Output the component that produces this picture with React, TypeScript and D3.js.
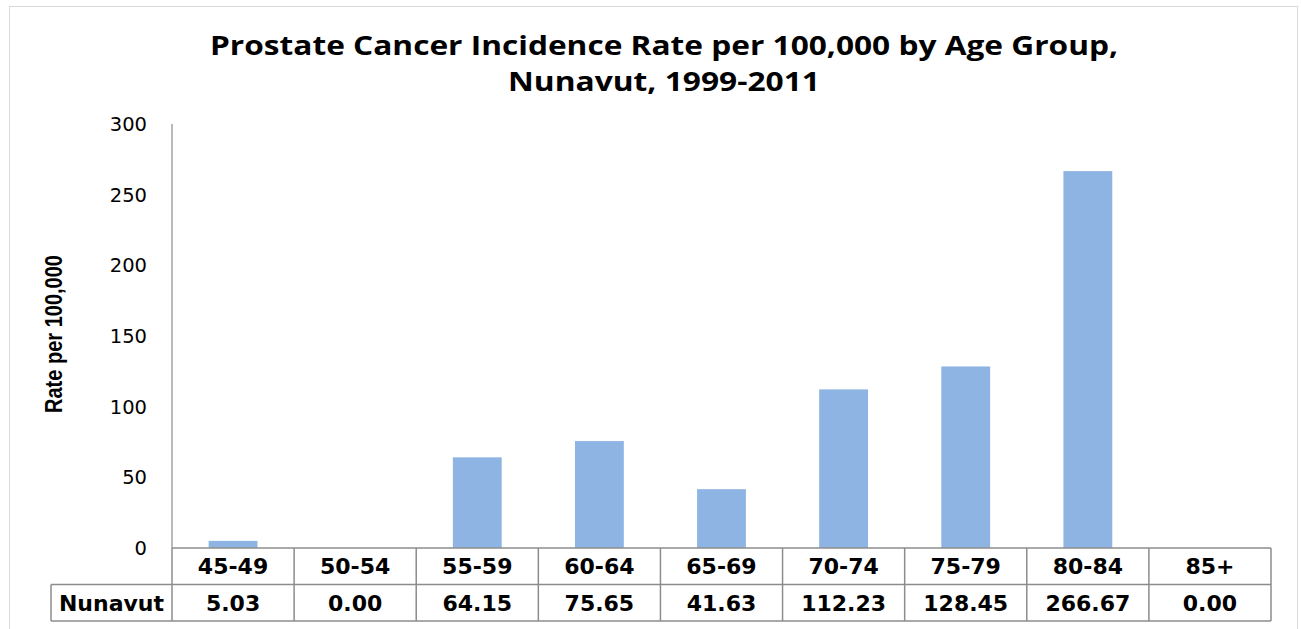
import React from "react";
import * as d3 from "d3";

const ageGroups = ["45-49", "50-54", "55-59", "60-64", "65-69", "70-74", "75-79", "80-84", "85+"];
const rates = [5.03, 0.0, 64.15, 75.65, 41.63, 112.23, 128.45, 266.67, 0.0];
const yTicks = [0, 50, 100, 150, 200, 250, 300];
const seriesName = "Nunavut";
const titleLines = ["Prostate Cancer Incidence Rate per 100,000 by Age Group,", "Nunavut, 1999-2011"];
const yLabel = "Rate per 100,000";

const W = 1301;
const H = 629;
const plot = { left: 172, right: 1271, top: 124, bottom: 548 };
const rowH = 36.5;

export default function App() {
  const x = d3.scaleBand<string>().domain(ageGroups).range([plot.left, plot.right]).paddingInner(0.6).paddingOuter(0.3);
  const xCell = d3.scaleBand<string>().domain(ageGroups).range([plot.left, plot.right]);
  const y = d3.scaleLinear().domain([0, 300]).range([plot.bottom, plot.top]);
  const tableFont = "'DejaVu Sans', Verdana, sans-serif";
  const grid = "#8c8c8c";
  const titleLens = [908, 312];

  return (
    <svg width={W} height={H} style={{ position: "absolute", left: 0, top: 0 }}>
      <rect x={9.5} y={6.5} width={1288} height={640} fill="#fff" stroke="#d9d9d9" />
      <g fontFamily="'Open Sans', sans-serif" fontWeight="bold" fontSize={27} textAnchor="middle" fill="#000">
        {titleLines.map((t, i) => (
          <text key={i} x={664} y={55 + i * 36} textLength={titleLens[i]} lengthAdjust="spacingAndGlyphs">{t}</text>
        ))}
      </g>
      <text
        transform={`translate(62,${334}) rotate(-90)`}
        textAnchor="middle"
        fontFamily="'Liberation Sans', Arial, sans-serif"
        fontWeight="bold"
        fontSize={23}
        textLength={158}
        lengthAdjust="spacingAndGlyphs"
      >
        {yLabel}
      </text>
      <g fontFamily="'DejaVu Sans', Verdana, sans-serif" fontSize={19.5} textAnchor="end" fill="#000">
        {yTicks.map((t) => (
          <text key={t} x={147} y={y(t)} dy="0.36em">{t}</text>
        ))}
      </g>
      <g>
        {ageGroups.map((g, i) => (
          <rect key={g} x={x(g)} y={y(rates[i])} width={x.bandwidth()} height={plot.bottom - y(rates[i])} fill="#8eb4e3" />
        ))}
      </g>
      <line x1={plot.left} x2={plot.left} y1={plot.top} y2={plot.bottom} stroke={grid} strokeWidth={1.2} />
      {/* data table */}
      <g stroke={grid} strokeWidth={1.5} fill="none">
        <line x1={plot.left} x2={plot.right} y1={plot.bottom} y2={plot.bottom} />
        <line x1={51} x2={plot.right} y1={plot.bottom + rowH} y2={plot.bottom + rowH} />
        <line x1={51} x2={plot.right} y1={plot.bottom + 2 * rowH} y2={plot.bottom + 2 * rowH} />
        <line x1={51} x2={51} y1={plot.bottom + rowH} y2={plot.bottom + 2 * rowH} />
        {ageGroups.map((g) => (
          <line key={g} x1={xCell(g)} x2={xCell(g)} y1={plot.bottom} y2={plot.bottom + 2 * rowH} />
        ))}
        <line x1={plot.right} x2={plot.right} y1={plot.bottom} y2={plot.bottom + 2 * rowH} />
      </g>
      <g fontFamily={tableFont} fontWeight="bold" fontSize={22} textAnchor="middle" fill="#000">
        {ageGroups.map((g, i) => (
          <React.Fragment key={g}>
            <text x={xCell(g)! + xCell.bandwidth() / 2} y={plot.bottom + rowH / 2} dy="0.36em">{g}</text>
            <text x={xCell(g)! + xCell.bandwidth() / 2} y={plot.bottom + rowH * 1.5} dy="0.36em">{rates[i].toFixed(2)}</text>
          </React.Fragment>
        ))}
        <text x={(51 + plot.left) / 2} y={plot.bottom + rowH * 1.5} dy="0.36em">{seriesName}</text>
      </g>
    </svg>
  );
}
